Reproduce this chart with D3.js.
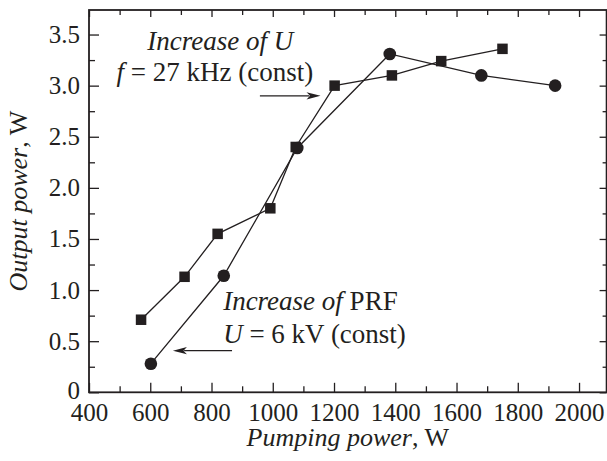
<!DOCTYPE html>
<html>
<head>
<meta charset="utf-8">
<script src="https://cdn.jsdelivr.net/npm/d3@7"></script>
<style>
  body { margin: 0; background: #fff; }
  svg { display: block; }
  svg text { font-family: "Liberation Serif", "Times New Roman", Times, serif; fill: #231f20; }
</style>
</head>
<body>
<div id="chart"></div>
<script>
// data
const squareX = [570, 712, 820, 992, 1075, 1202, 1389, 1550, 1750];
const squareY = [0.71, 1.13, 1.55, 1.80, 2.40, 3.00, 3.10, 3.24, 3.36];
const circleX = [602, 840, 1080, 1382, 1681, 1922];
const circleY = [0.28, 1.14, 2.39, 3.31, 3.10, 3.00];

const xTicks = [400, 600, 800, 1000, 1200, 1400, 1600, 1800, 2000];
const xMinor = [500, 700, 900, 1100, 1300, 1500, 1700, 1900];
const yTicks = [0, 0.5, 1.0, 1.5, 2.0, 2.5, 3.0, 3.5];
const yTickLabels = ["0", "0.5", "1.0", "1.5", "2.0", "2.5", "3.0", "3.5"];
const yMinor = [0.25, 0.75, 1.25, 1.75, 2.25, 2.75, 3.25];

const W = 607, H = 461;
const m = {top: 10, right: 0.4, bottom: 68.7, left: 89}; // frame edges

const svg = d3.select("#chart").append("svg")
    .attr("width", W)
    .attr("height", H);

const x = d3.scaleLinear().domain([400, 2090]).range([m.left, W - m.right]);
const y = d3.scaleLinear().domain([0, 3.74]).range([H - m.bottom, m.top]);

const ink = "#231f20";
const fs = 25;   // tick labels
const fa = 27;   // annotations

// ticks, all pointing inwards
function ticks(axis, pos, values, size, labels) {
  const g = svg.append("g")
    .attr("transform", pos)
    .call(axis.tickValues(values).tickSize(size).tickFormat(labels ? (d, i) => labels[i] : ""));
  g.select(".domain").remove();
  g.attr("font-family", null);
  g.selectAll("line").attr("stroke", ink).attr("stroke-width", 1.3);
  return g;
}

const xb = ticks(d3.axisBottom(x), `translate(0,${y(0)})`, xTicks, -9.5, xTicks.map(String));
xb.selectAll("text").attr("y", 10.5).attr("font-size", fs);
ticks(d3.axisBottom(x), `translate(0,${y(0)})`, xMinor, -6);
ticks(d3.axisTop(x), `translate(0,${m.top})`, xTicks, -7);
ticks(d3.axisTop(x), `translate(0,${m.top})`, xMinor, -5);

const yl = ticks(d3.axisLeft(y), `translate(${m.left},0)`, yTicks, -10, yTickLabels);
yl.selectAll("text").attr("x", -9).attr("font-size", fs);
yl.selectAll("text").filter(d => d === 0).attr("dy", "0.24em");
ticks(d3.axisLeft(y), `translate(${m.left},0)`, yMinor, -6);
ticks(d3.axisRight(y), `translate(${W - m.right},0)`, yTicks, -7);
ticks(d3.axisRight(y), `translate(${W - m.right},0)`, yMinor, -4);
svg.selectAll(".tick text").attr("fill", ink);

// frame
svg.append("rect")
  .attr("x", m.left).attr("y", m.top)
  .attr("width", W - m.right - m.left)
  .attr("height", y(0) - m.top)
  .attr("fill", "none")
  .attr("stroke", ink)
  .attr("stroke-width", 1.8);

// series
const line = d3.line().x(d => x(d[0])).y(d => y(d[1]));
const sq = squareX.map((v, i) => [v, squareY[i]]);
const ci = circleX.map((v, i) => [v, circleY[i]]);

svg.append("path").attr("d", line(sq)).attr("fill", "none").attr("stroke", ink).attr("stroke-width", 1.3);
svg.append("path").attr("d", line(ci)).attr("fill", "none").attr("stroke", ink).attr("stroke-width", 1.3);

const s = 10.5;
svg.append("g").selectAll("rect").data(sq).join("rect")
  .attr("x", d => x(d[0]) - s / 2)
  .attr("y", d => y(d[1]) - s / 2)
  .attr("width", s).attr("height", s)
  .attr("fill", ink);

svg.append("g").selectAll("circle").data(ci).join("circle")
  .attr("cx", d => x(d[0]))
  .attr("cy", d => y(d[1]))
  .attr("r", 6.3)
  .attr("fill", ink);

// annotations: [x, y, [text, italic]...]
const notes = [
  [590, 3.347, [["Increase of U", true]]],
  [490, 3.044, [["f", true], [" = 27 kHz (const)", false]]],
  [838, 0.805, [["Increase of ", true], ["PRF", false]]],
  [838, 0.482, [["U", true], [" = 6 kV (const)", false]]]
];
notes.forEach(n => {
  const t = svg.append("text")
    .attr("x", x(n[0])).attr("y", y(n[1]))
    .attr("font-size", fa)
    .attr("xml:space", "preserve");
  n[2].forEach(p => t.append("tspan").attr("font-style", p[1] ? "italic" : "normal").text(p[0]));
});

// arrows [from x, to x, y]
const arrows = [[958, 1156, 2.90], [867, 674, 0.407]];
arrows.forEach(a => {
  const x0 = x(a[0]), x1 = x(a[1]), yy = y(a[2]);
  const dir = Math.sign(x1 - x0), L = 14, hw = 3.6;
  svg.append("line")
    .attr("x1", x0).attr("x2", x1 - dir * L * 0.8)
    .attr("y1", yy).attr("y2", yy)
    .attr("stroke", ink).attr("stroke-width", 1.3);
  svg.append("path")
    .attr("d", `M${x1},${yy}L${x1 - dir * L},${yy - hw}L${x1 - dir * L * 0.75},${yy}L${x1 - dir * L},${yy + hw}Z`)
    .attr("fill", ink);
});

// axis titles
const xt = svg.append("text")
  .attr("x", (m.left + W - m.right) / 2).attr("y", 446)
  .attr("text-anchor", "middle")
  .attr("font-size", 26)
  .attr("xml:space", "preserve");
xt.append("tspan").attr("font-style", "italic").text("Pumping power");
xt.append("tspan").text(", W");

const yt = svg.append("text")
  .attr("transform", `translate(27,${(m.top + y(0)) / 2}) rotate(-90)`)
  .attr("text-anchor", "middle")
  .attr("font-size", 26)
  .attr("xml:space", "preserve");
yt.append("tspan").attr("font-style", "italic").text("Output power");
yt.append("tspan").text(", W");
</script>
</body>
</html>
